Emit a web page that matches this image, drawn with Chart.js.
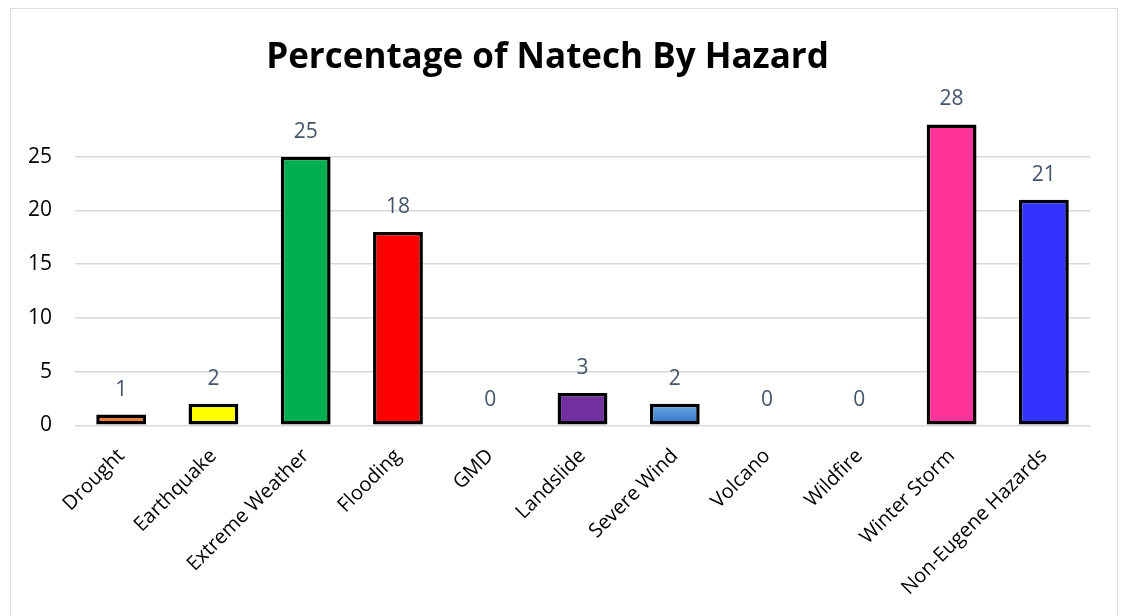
<!DOCTYPE html>
<html>
<head>
<meta charset="utf-8">
<script src="https://cdn.jsdelivr.net/npm/chart.js@4.4.1/dist/chart.umd.min.js"></script>
<style>
  html, body { margin: 0; padding: 0; background: #fff; }
  #wrap { position: relative; width: 1121px; height: 616px; }
  #frame { position: absolute; left: 10px; top: 8px; width: 1106px; height: 640px; border: 1px solid #d9dde6; pointer-events: none; }
  canvas { position: absolute; left: 0; top: 0; }
</style>
</head>
<body>
<div id="wrap">
  <canvas id="c" width="1121" height="616"></canvas>
  <div id="frame"></div>
</div>
<script>
const categories = ["Drought", "Earthquake", "Extreme Weather", "Flooding", "GMD", "Landslide", "Severe Wind", "Volcano", "Wildfire", "Winter Storm", "Non-Eugene Hazards"];
const values = [1, 2, 25, 18, 0, 3, 2, 0, 0, 28, 21];
const barColors = ["#ED7D31", "#FFFF00", "#00B050", "#FF0000", "#A5A5A5", "#7030A0", "#5B9BD5", "#A5A5A5", "#A5A5A5", "#FF3399", "#3333FF"];
const yTicks = [0, 5, 10, 15, 20, 25];
const titleText = "Percentage of Natech By Hazard";

const FONT = "'Open Sans', 'Noto Sans', sans-serif";

const valueLabels = {
  id: 'valueLabels',
  afterDatasetsDraw(chart) {
    const ctx = chart.ctx;
    const meta = chart.getDatasetMeta(0);
    ctx.save();
    ctx.font = "21px " + FONT;
    ctx.fillStyle = "#44546A";
    ctx.textAlign = "center";
    ctx.textBaseline = "middle";
    meta.data.forEach((bar, i) => {
      ctx.fillText(String(values[i]), bar.x, bar.y - 25);
    });
    ctx.restore();
  }
};

function barFill(context) {
  const i = context.dataIndex;
  const base = barColors[i];
  if (categories[i] === "Severe Wind") {
    const chart = context.chart;
    if (!chart.chartArea) return base;
    const yTop = chart.scales.y.getPixelForValue(values[i]);
    const yBot = chart.scales.y.getPixelForValue(0);
    const g = chart.ctx.createLinearGradient(0, yTop, 0, yBot);
    g.addColorStop(0, "#6FA8E0");
    g.addColorStop(1, "#2E75C8");
    return g;
  }
  return base;
}

new Chart(document.getElementById('c'), {
  type: 'bar',
  data: {
    labels: categories,
    datasets: [{
      data: values,
      backgroundColor: barFill,
      borderColor: "#000000",
      borderWidth: 3.5,
      borderSkipped: false,
      categoryPercentage: 1.0,
      barPercentage: 0.54
    }]
  },
  options: {
    responsive: false,
    animation: false,
    devicePixelRatio: 1,
    layout: { padding: { left: 5, right: 31, top: 37, bottom: -3 } },
    plugins: {
      legend: { display: false },
      tooltip: { enabled: false },
      title: {
        display: true,
        text: titleText,
        color: "#000",
        font: { family: FONT, size: 35, weight: 'bold' },
        padding: { top: 0, bottom: 24 }
      }
    },
    scales: {
      x: {
        grid: { display: false, drawTicks: false },
        border: { display: false },
        ticks: {
          color: "#000",
          font: { family: FONT, size: 20 },
          minRotation: 45,
          maxRotation: 45,
          padding: 19,
          autoSkip: false
        }
      },
      y: {
        min: 0,
        max: 30,
        afterBuildTicks: axis => { axis.ticks = yTicks.map(v => ({ value: v })); },
        grid: { color: "#D9D9D9", lineWidth: 1.5, drawTicks: false },
        border: { display: false },
        ticks: {
          color: "#000",
          font: { family: FONT, size: 21 },
          padding: 23
        }
      }
    }
  },
  plugins: [valueLabels]
});
</script>
</body>
</html>
